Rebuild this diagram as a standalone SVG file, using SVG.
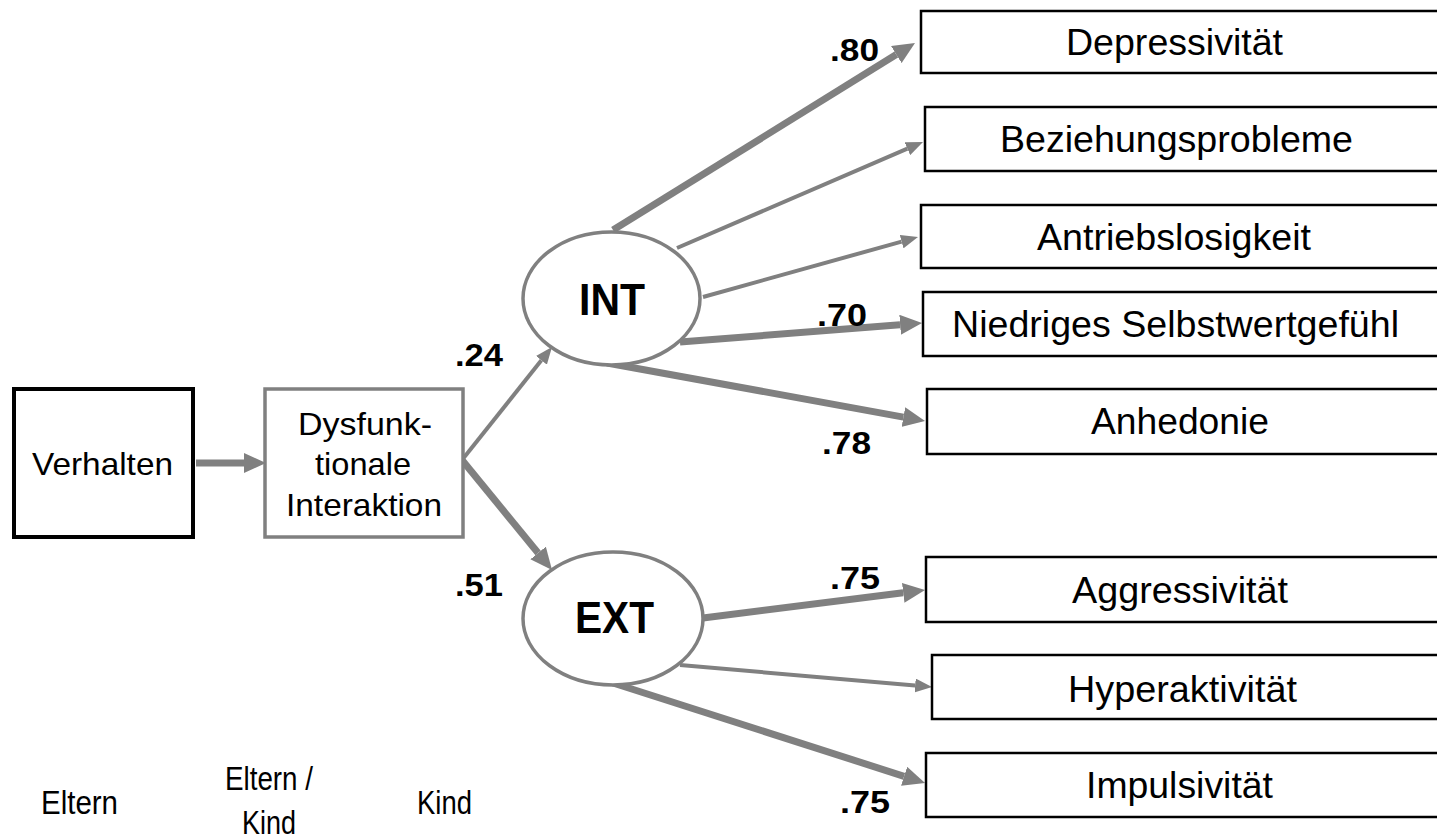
<svg xmlns="http://www.w3.org/2000/svg" width="1437" height="839" viewBox="0 0 1437 839">
<style>
  text { font-family: "Liberation Sans", Arial, sans-serif; fill: #000; }
  .lbl { font-size: 32px; }
  .bot { font-size: 34px; }
  .big { font-size: 36px; }
  .num { font-size: 32px; font-weight: bold; }
  .lat { font-size: 44px; font-weight: bold; }
  .box { fill: #fff; stroke: #000; stroke-width: 2.5; }
  .gbox { fill: #fff; stroke: #808080; stroke-width: 3.5; }
  .ell { fill: #fff; stroke: #808080; stroke-width: 3.5; }
  .thick { stroke: #808080; stroke-width: 7; fill: none; marker-end: url(#ah-thick); }
  .thin { stroke: #808080; stroke-width: 4; fill: none; marker-end: url(#ah-thin); }
</style>
<defs>
  <marker id="ah-thick" markerUnits="userSpaceOnUse" markerWidth="22" markerHeight="20" refX="0" refY="10" orient="auto" viewBox="0 0 22 20">
    <path d="M0,0 L22,10 L0,20 z" fill="#808080"/>
  </marker>
  <marker id="ah-thin" markerUnits="userSpaceOnUse" markerWidth="17" markerHeight="14" refX="0" refY="7" orient="auto" viewBox="0 0 17 14">
    <path d="M0,0 L17,7 L0,14 z" fill="#808080"/>
  </marker>
</defs>

<g id="connectors">
  <line class="thick" x1="196" y1="463" x2="244" y2="463"/>
  <line class="thin" x1="462" y1="460" x2="541.4" y2="360.3"/>
  <line class="thick" x1="462" y1="460" x2="538.1" y2="553"/>
  <line class="thick" x1="613" y1="230" x2="896.3" y2="54.6"/>
  <line class="thin" x1="677" y1="248" x2="907.4" y2="148.7"/>
  <line class="thin" x1="703" y1="297" x2="901.6" y2="241.6"/>
  <line class="thick" x1="680" y1="342" x2="900.1" y2="324.7"/>
  <line class="thick" x1="607" y1="363" x2="903.4" y2="417.1"/>
  <line class="thick" x1="703" y1="618" x2="903.2" y2="592.8"/>
  <line class="thin" x1="680" y1="665" x2="915.1" y2="685.5"/>
  <line class="thick" x1="613" y1="683" x2="904.1" y2="776.3"/>
</g>

<g id="verhalten">
  <rect x="14" y="389" width="179" height="148" fill="#fff" stroke="#000" stroke-width="4"/>
  <text class="lbl" x="32" y="475" textLength="141" lengthAdjust="spacingAndGlyphs">Verhalten</text>
</g>

<g id="dysfunktionale">
  <rect class="gbox" x="265" y="389" width="198" height="148"/>
  <text class="lbl" x="298" y="435" textLength="134" lengthAdjust="spacingAndGlyphs">Dysfunk-</text>
  <text class="lbl" x="315" y="475" textLength="96" lengthAdjust="spacingAndGlyphs">tionale</text>
  <text class="lbl" x="286" y="516" textLength="156" lengthAdjust="spacingAndGlyphs">Interaktion</text>
</g>

<g id="int">
  <ellipse class="ell" cx="611.5" cy="298.5" rx="88.5" ry="66.5"/>
  <text class="lat" x="579" y="315" textLength="66" lengthAdjust="spacingAndGlyphs">INT</text>
</g>

<g id="ext">
  <ellipse class="ell" cx="613" cy="618.5" rx="90" ry="66.5"/>
  <text class="lat" x="575" y="633" textLength="79" lengthAdjust="spacingAndGlyphs">EXT</text>
</g>

<g id="depressivitaet">
  <rect class="box" x="921" y="11" width="530" height="62"/>
  <text class="big" x="1066" y="55" textLength="217" lengthAdjust="spacingAndGlyphs">Depressivität</text>
</g>
<g id="beziehungsprobleme">
  <rect class="box" x="925" y="107" width="530" height="64"/>
  <text class="big" x="1000" y="152" textLength="353" lengthAdjust="spacingAndGlyphs">Beziehungsprobleme</text>
</g>
<g id="antriebslosigkeit">
  <rect class="box" x="921" y="205" width="530" height="63"/>
  <text class="big" x="1037" y="250" textLength="274" lengthAdjust="spacingAndGlyphs">Antriebslosigkeit</text>
</g>
<g id="selbstwert">
  <rect class="box" x="923" y="292" width="530" height="64"/>
  <text class="big" x="952" y="337" textLength="447" lengthAdjust="spacingAndGlyphs">Niedriges Selbstwertgefühl</text>
</g>
<g id="anhedonie">
  <rect class="box" x="927" y="389" width="530" height="65"/>
  <text class="big" x="1091" y="434" textLength="178" lengthAdjust="spacingAndGlyphs">Anhedonie</text>
</g>
<g id="aggressivitaet">
  <rect class="box" x="926" y="557" width="530" height="65"/>
  <text class="big" x="1072" y="603" textLength="216" lengthAdjust="spacingAndGlyphs">Aggressivität</text>
</g>
<g id="hyperaktivitaet">
  <rect class="box" x="932" y="655" width="530" height="64"/>
  <text class="big" x="1068" y="702" textLength="229" lengthAdjust="spacingAndGlyphs">Hyperaktivität</text>
</g>
<g id="impulsivitaet">
  <rect class="box" x="926" y="753" width="530" height="64"/>
  <text class="big" x="1086" y="798" textLength="187" lengthAdjust="spacingAndGlyphs">Impulsivität</text>
</g>

<g id="coefficients">
  <text class="num" x="455" y="366" textLength="48" lengthAdjust="spacingAndGlyphs">.24</text>
  <text class="num" x="455" y="596" textLength="48" lengthAdjust="spacingAndGlyphs">.51</text>
  <text class="num" x="830" y="61" textLength="49" lengthAdjust="spacingAndGlyphs">.80</text>
  <text class="num" x="817" y="326" textLength="50" lengthAdjust="spacingAndGlyphs">.70</text>
  <text class="num" x="822" y="454" textLength="49" lengthAdjust="spacingAndGlyphs">.78</text>
  <text class="num" x="830" y="589" textLength="50" lengthAdjust="spacingAndGlyphs">.75</text>
  <text class="num" x="840" y="813" textLength="50" lengthAdjust="spacingAndGlyphs">.75</text>
</g>

<g id="levels">
  <text class="bot" x="41" y="814" textLength="77" lengthAdjust="spacingAndGlyphs">Eltern</text>
  <text class="bot" x="225" y="790" textLength="88" lengthAdjust="spacingAndGlyphs">Eltern /</text>
  <text class="bot" x="242" y="834" textLength="54" lengthAdjust="spacingAndGlyphs">Kind</text>
  <text class="bot" x="417" y="814" textLength="55" lengthAdjust="spacingAndGlyphs">Kind</text>
</g>
</svg>
